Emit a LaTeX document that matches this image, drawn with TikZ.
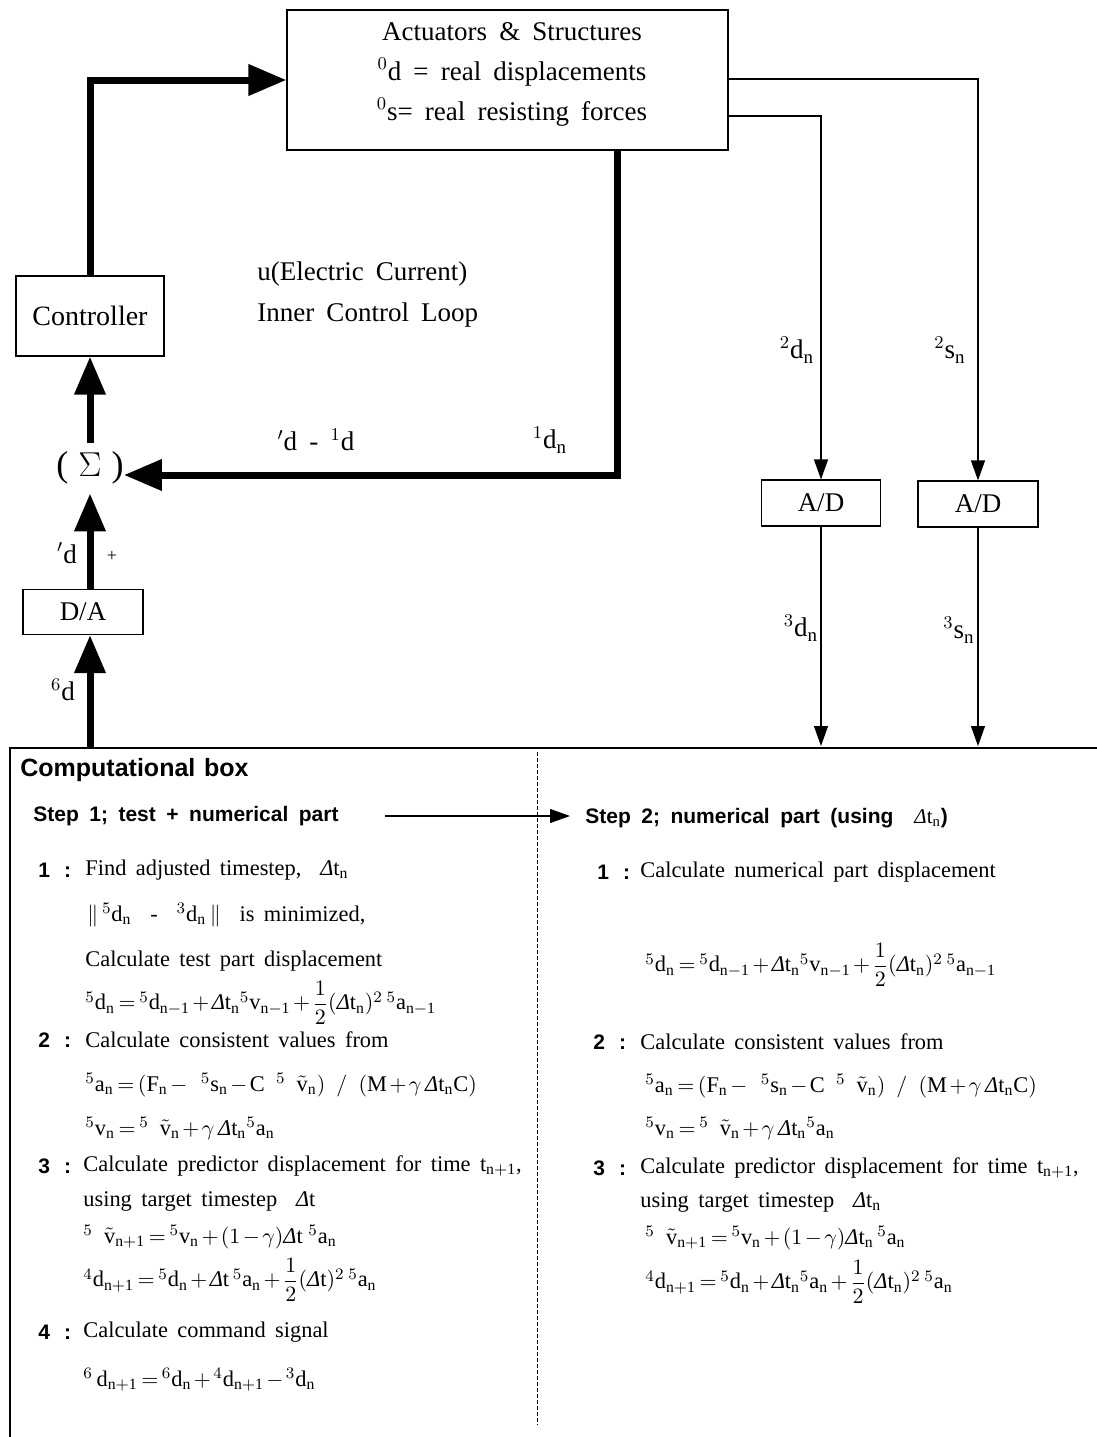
\documentclass[tikz,border=0pt]{standalone}
\usepackage{amsmath}
\usepackage{fontspec}
\setmainfont{Liberation Serif}
\setsansfont{Liberation Sans}
\usetikzlibrary{arrows.meta}
\newcommand\fA{\fontsize{13.5}{16}\selectfont\spaceskip=.45em plus .1em\relax}
\newcommand\fAA{\fontsize{13.5}{20}\selectfont\spaceskip=.45em plus .1em\relax}
\newcommand\fB{\fontsize{11.2}{14}\selectfont\spaceskip=.42em plus .1em\relax}
\newcommand\fE{\fontsize{11.2}{14}\selectfont\medmuskip=2mu\relax\thickmuskip=3mu\relax}
\newcommand\fH{\sffamily\bfseries\fontsize{12.5}{15}\selectfont\spaceskip=.35em\relax}
\newcommand\fS{\sffamily\bfseries\fontsize{10.5}{13}\selectfont\spaceskip=.5em\relax}
\newcommand\Dt{\text{\normalfont\itshape Δ}\mathrm{t}}
\newcommand\vt{\tilde{\mathrm{v}}}
\begin{document}
\begin{tikzpicture}[x=0.5pt,y=-0.5pt,
  box/.style={draw,line width=0.6pt,inner sep=0pt},
  thickarr/.style={line width=3.5pt,line join=miter,-{Triangle[length=19pt,width=15pt]}},
  thinarr/.style={line width=0.6pt,-{Triangle[length=10pt,width=7pt]}},
  lab/.style={inner sep=0pt,font=\fA},
  txt/.style={anchor=west,inner sep=0pt,font=\fB},
  eqn/.style={anchor=west,inner sep=0pt,font=\fE},
  num/.style={anchor=west,inner sep=0pt,font=\fS}]
\useasboundingbox (0,0) rectangle (1097,1437);

% upper diagram boxes
\node[box,minimum width=220.5pt,minimum height=70pt] (act) at (507.5,80) {};
\node[inner sep=0pt,align=center,font=\fAA] (acttxt) at (512,74)
  {Actuators \& Structures\\ $^{0}$d = real displacements\\ $^{0}$s= real resisting forces};
\node[box,minimum width=74pt,minimum height=40pt,font=\fontsize{14}{16}\selectfont] (ctrl) at (90,316) {Controller};
\node[inner sep=0pt,minimum height=25pt] (sig) at (90,468)
  {{\fontsize{18}{18}\selectfont(}\hspace{5pt}{\fontsize{16}{16}\selectfont$\Sigma$}\hspace{5pt}{\fontsize{18}{18}\selectfont)}};
\node[box,minimum width=60pt,minimum height=22.5pt,font=\fA] (da) at (83,612) {D/A};
\node[box,minimum width=59.5pt,minimum height=23pt,font=\fA] (ad1) at (821,503) {A/D};
\node[box,minimum width=60pt,minimum height=23pt,font=\fA] (ad2) at (978,504) {A/D};

% coordinates
\coordinate (fb) at (617,475);
\coordinate (r1) at (978,79);
\coordinate (r2) at (821,116);
\coordinate (cbtop) at (90,748);
\coordinate (cbin) at (0,746);

% thick loop
\draw[thickarr] (ctrl.north) |- (act.west);
\draw[thickarr] (act.south -| fb) -- (fb) -- (fb -| sig.east);
\draw[thickarr] (sig.north) -- (ctrl.south);
\draw[thickarr] (da.north -| sig.south) -- (sig.south);
\draw[thickarr] (cbtop) -- (da.south -| cbtop);

% thin measurement lines
\draw[thinarr] (r1 -| act.east) -- (r1) -- (ad2.north);
\draw[thinarr] (r2 -| act.east) -- (r2) -- (ad1.north);
\draw[thinarr] (ad1.south) -- (ad1.south |- cbin);
\draw[thinarr] (ad2.south) -- (ad2.south |- cbin);

% labels upper part
\node[lab,anchor=west] (l1) at (257,274) {u(Electric Current)};
\node[lab,anchor=west] (l2) at (257,315) {Inner Control Loop};
\node[lab] (l3) at (316,440) {$^{\prime}$d - $^{1}$d};
\node[lab] (l4) at (550,440) {$^{1}$d$_{\mathrm{n}}$};
\node[lab] (l5) at (67,553) {$^{\prime}$d};
\node[inner sep=0pt,font=\fontsize{9}{9}\selectfont] (l6) at (112,556) {+};
\node[lab] (l7) at (63,690) {$^{6}$d};
\node[lab] (l8) at (797,350) {$^{2}$d$_{\mathrm{n}}$};
\node[lab] (l9) at (950,350) {$^{2}$s$_{\mathrm{n}}$};
\node[lab] (l10) at (801,628) {$^{3}$d$_{\mathrm{n}}$};
\node[lab] (l11) at (959,630) {$^{3}$s$_{\mathrm{n}}$};

% computational box frame
\draw[line width=0.6pt] (1097,748) -- (10,748) -- (10,1437);
\draw[line width=0.5pt,dash pattern=on 2pt off 1pt] (537,752) -- (537,1425);

\node[anchor=west,inner sep=0pt,font=\fH] (cbt) at (20,770) {Computational box};
\node[num] (s1) at (33,816) {Step 1; test + numerical part};
\node[num] (s2) at (585,818) {Step 2; numerical part (using \ $\Dt_{\mathrm{n}}$)};
\coordinate (sa) at (385,816);
\coordinate (sb) at (570,816);
\draw[thinarr] (sa) -- (sb);

% left column
\node[num] (n1) at (38,870) {1 \,:};
\node[txt] (t1) at (85,870) {Find adjusted timestep, \ $\Dt_{\mathrm{n}}$};
\node[txt] (t2) at (87,915) {$\Vert\,{}^{5}\mathrm{d_n}$ \ - \ ${}^{3}\mathrm{d_n}\,\Vert$ \ is minimized,};
\node[txt] (t3) at (85,961) {Calculate test part displacement};
\node[eqn] (e1) at (85,1003) {${}^{5}\mathrm{d_n} = {}^{5}\mathrm{d_{n-1}} + \Dt_{\mathrm{n}}{}^{5}\mathrm{v_{n-1}} + \dfrac{1}{2}(\Dt_{\mathrm{n}})^{2}\,{}^{5}\mathrm{a_{n-1}}$};
\node[num] (n2) at (38,1040) {2 \,:};
\node[txt] (t4) at (85,1040) {Calculate consistent values from};
\node[eqn] (e2) at (85,1085) {${}^{5}\mathrm{a_n} = (\mathrm{F_n} -\ \ {}^{5}\mathrm{s_n} - \mathrm{C}\ \ {}^{5}\ \ \vt_{\mathrm{n}})\ \ /\ \ (\mathrm{M} + \gamma\,\Dt_{\mathrm{n}}\mathrm{C})$};
\node[eqn] (e3) at (85,1128) {${}^{5}\mathrm{v_n} = {}^{5}\ \ \vt_{\mathrm{n}} + \gamma\,\Dt_{\mathrm{n}}{}^{5}\mathrm{a_n}$};
\node[num] (n3) at (38,1166) {3 \,:};
\node[txt] (t5) at (83,1166) {Calculate predictor displacement for time t$_{\mathrm{n+1}}$,};
\node[txt] (t6) at (83,1201) {using target timestep \ $\Dt$};
\node[eqn] (e4) at (83,1237) {${}^{5}\ \ \vt_{\mathrm{n+1}} = {}^{5}\mathrm{v_n} + (1-\gamma)\Dt\ {}^{5}\mathrm{a_n}$};
\node[eqn] (e5) at (83,1280) {${}^{4}\mathrm{d_{n+1}} = {}^{5}\mathrm{d_n} + \Dt\,{}^{5}\mathrm{a_n} + \dfrac{1}{2}(\Dt)^{2}\,{}^{5}\mathrm{a_n}$};
\node[num] (n4) at (38,1332) {4 \,:};
\node[txt] (t7) at (83,1332) {Calculate command signal};
\node[eqn] (e6) at (83,1380) {${}^{6}\,\mathrm{d_{n+1}} = {}^{6}\mathrm{d_n} + {}^{4}\mathrm{d_{n+1}} - {}^{3}\mathrm{d_n}$};

% right column
\node[num] (m1) at (597,872) {1 \,:};
\node[txt] (u1) at (640,872) {Calculate numerical part displacement};
\node[eqn] (f1) at (645,965) {${}^{5}\mathrm{d_n} = {}^{5}\mathrm{d_{n-1}} + \Dt_{\mathrm{n}}{}^{5}\mathrm{v_{n-1}} + \dfrac{1}{2}(\Dt_{\mathrm{n}})^{2}\,{}^{5}\mathrm{a_{n-1}}$};
\node[num] (m2) at (593,1042) {2 \,:};
\node[txt] (u2) at (640,1042) {Calculate consistent values from};
\node[eqn] (f2) at (645,1086) {${}^{5}\mathrm{a_n} = (\mathrm{F_n} -\ \ {}^{5}\mathrm{s_n} - \mathrm{C}\ \ {}^{5}\ \ \vt_{\mathrm{n}})\ \ /\ \ (\mathrm{M} + \gamma\,\Dt_{\mathrm{n}}\mathrm{C})$};
\node[eqn] (f3) at (645,1128) {${}^{5}\mathrm{v_n} = {}^{5}\ \ \vt_{\mathrm{n}} + \gamma\,\Dt_{\mathrm{n}}{}^{5}\mathrm{a_n}$};
\node[num] (m3) at (593,1168) {3 \,:};
\node[txt] (u3) at (640,1168) {Calculate predictor displacement for time t$_{\mathrm{n+1}}$,};
\node[txt] (u4) at (640,1202) {using target timestep \ $\Dt_{\mathrm{n}}$};
\node[eqn] (f4) at (645,1238) {${}^{5}\ \ \vt_{\mathrm{n+1}} = {}^{5}\mathrm{v_n} + (1-\gamma)\Dt_{\mathrm{n}}\,{}^{5}\mathrm{a_n}$};
\node[eqn] (f5) at (645,1282) {${}^{4}\mathrm{d_{n+1}} = {}^{5}\mathrm{d_n} + \Dt_{\mathrm{n}}{}^{5}\mathrm{a_n} + \dfrac{1}{2}(\Dt_{\mathrm{n}})^{2}\,{}^{5}\mathrm{a_n}$};
\end{tikzpicture}
\end{document}
